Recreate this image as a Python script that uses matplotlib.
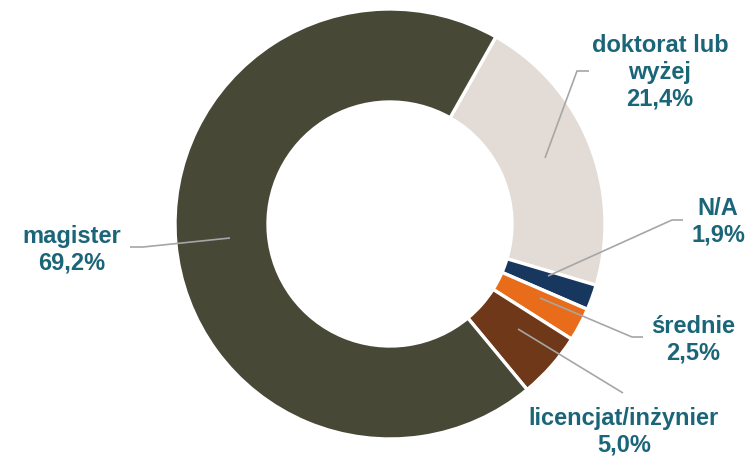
import matplotlib
matplotlib.use("Agg")
import matplotlib.pyplot as plt

categories = ["doktorat lub\nwyżej", "N/A", "średnie", "licencjat/inżynier", "magister"]
values = [21.4, 1.9, 2.5, 5.0, 69.2]
value_labels = ["21,4%", "1,9%", "2,5%", "5,0%", "69,2%"]
colors = ["#E3DCD6", "#17375E", "#E96C1A", "#6E3819", "#474836"]

W, H = 754, 458
fig = plt.figure(figsize=(W / 100, H / 100), dpi=100)
ax = fig.add_axes([0, 0, 1, 1])

cx, cy, R = 390, H - 224, 215
ax.pie(values, colors=colors, startangle=60.5, counterclock=False,
       center=(cx, cy), radius=R, frame=True,
       wedgeprops=dict(width=93, edgecolor="white", linewidth=2.4))
ax.set_xlim(0, W)
ax.set_ylim(0, H)
ax.set_aspect("auto")
ax.axis("off")

txt_color = "#1B6579"
line_color = "#A6A6A6"
font = dict(family=["Liberation Sans", "DejaVu Sans"], fontsize=17, fontweight="bold",
            color=txt_color, ha="center", va="center", linespacing=1.2)

# label positions (image pixel coords) and leader lines
label_pos = [(660, 72), (718, 222), (693, 340), (624, 432), (72, 250)]
leaders = [
    [(589, 71), (577, 71), (545, 158)],
    [(683, 220), (672, 220), (548, 276)],
    [(643, 337), (632, 337), (540, 298)],
    [(623, 393), (518, 329)],
    [(130, 247), (143, 247), (230, 238)],
]
for (name, vl, (lx, ly), pts) in zip(categories, value_labels, label_pos, leaders):
    ax.text(lx, H - ly, f"{name}\n{vl}", **font)
    xs = [p[0] for p in pts]
    ys = [H - p[1] for p in pts]
    ax.plot(xs, ys, color=line_color, lw=1.2, solid_capstyle="butt")

fig.savefig("out.png", dpi=100)
